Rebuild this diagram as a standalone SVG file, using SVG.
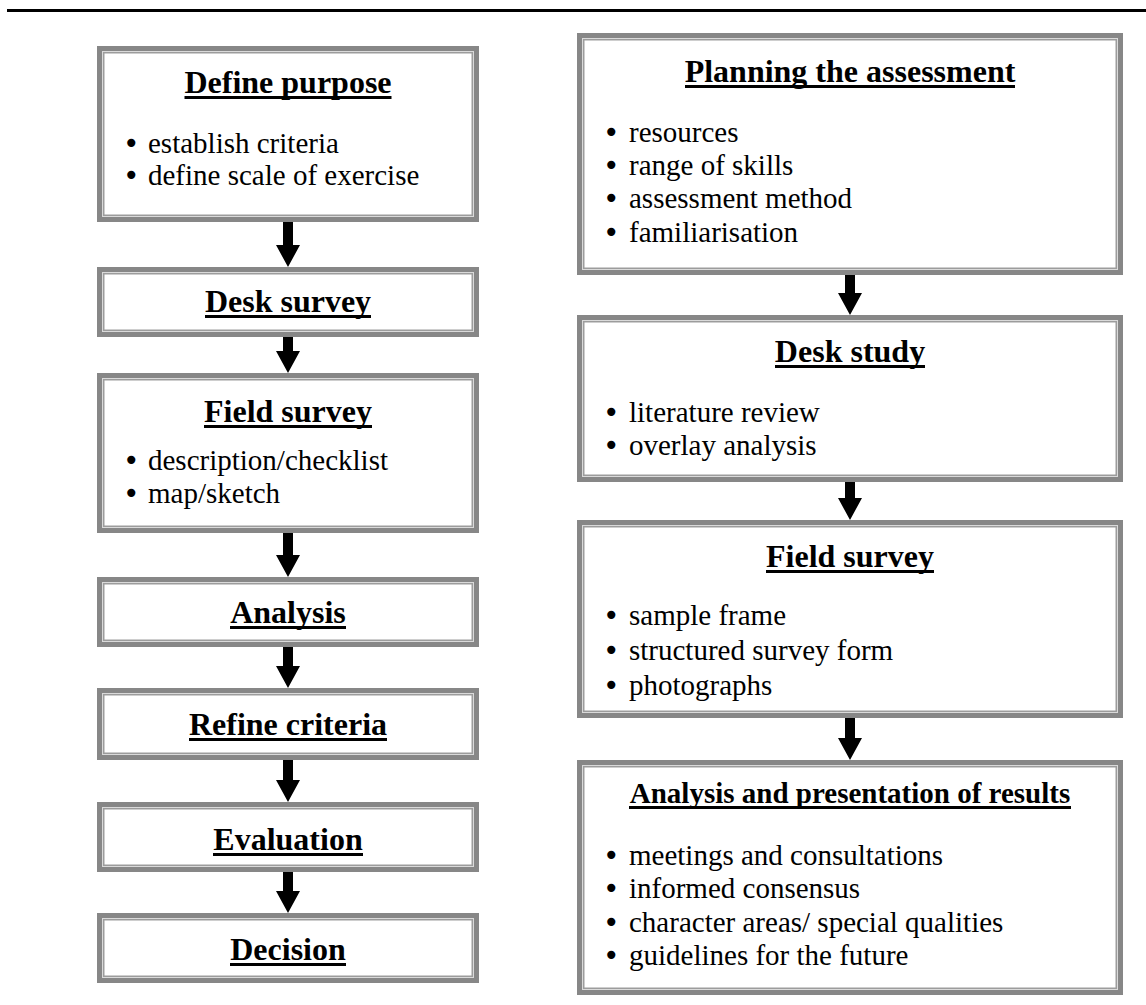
<svg xmlns="http://www.w3.org/2000/svg" width="1146" height="1005" viewBox="0 0 1146 1005">
<style>
.b0{fill:#878787}
.b1{fill:#dadada}
.b2{fill:#9c9c9c}
.b3{fill:#ffffff}
.t{font-family:"Liberation Serif","Times New Roman",serif;font-weight:bold;font-size:32px;fill:#000;text-anchor:middle}
.t2{font-family:"Liberation Serif","Times New Roman",serif;font-weight:bold;font-size:29px;fill:#000;text-anchor:middle}
.i{font-family:"Liberation Serif","Times New Roman",serif;font-size:29px;fill:#000}
.bu{font-family:"DejaVu Sans",sans-serif;font-size:28px}
.u{fill:#000}
.ar{fill:#000}
</style>
<rect x="7" y="9" width="1139" height="3" fill="#000"/>

<g id="connectors">
<path class="ar" d="M283 222 H293 V245 H300 L288 267 L276 245 H283 Z"/>
<path class="ar" d="M283 337 H293 V351 H300 L288 373 L276 351 H283 Z"/>
<path class="ar" d="M283 533 H293 V555 H300 L288 577 L276 555 H283 Z"/>
<path class="ar" d="M283 647 H293 V666 H300 L288 688 L276 666 H283 Z"/>
<path class="ar" d="M283 760 H293 V780 H300 L288 802 L276 780 H283 Z"/>
<path class="ar" d="M283 872 H293 V891 H300 L288 913 L276 891 H283 Z"/>
<path class="ar" d="M845 275 H855 V293 H862 L850 315 L838 293 H845 Z"/>
<path class="ar" d="M845 482 H855 V498 H862 L850 520 L838 498 H845 Z"/>
<path class="ar" d="M845 718 H855 V738 H862 L850 760 L838 738 H845 Z"/>
</g>

<g id="define-purpose">
<rect class="b0" x="97" y="46" width="382" height="176"/><rect class="b1" x="102" y="51" width="372" height="166"/><rect class="b2" x="103" y="52" width="370" height="164"/><rect class="b3" x="104.5" y="53.5" width="367" height="161"/>
<text class="t" x="288" y="93">Define purpose</text><rect class="u" x="184.5" y="96" width="207" height="3"/>
<text class="i" x="123" y="153"><tspan class="bu">•</tspan><tspan x="148">establish criteria</tspan></text>
<text class="i" x="123" y="185"><tspan class="bu">•</tspan><tspan x="148">define scale of exercise</tspan></text>
</g>

<g id="desk-survey">
<rect class="b0" x="97" y="267" width="382" height="70"/><rect class="b1" x="102" y="272" width="372" height="60"/><rect class="b2" x="103" y="273" width="370" height="58"/><rect class="b3" x="104.5" y="274.5" width="367" height="55"/>
<text class="t" x="288" y="312">Desk survey</text><rect class="u" x="205" y="315" width="166" height="3"/>
</g>

<g id="field-survey-left">
<rect class="b0" x="97" y="373" width="382" height="160"/><rect class="b1" x="102" y="378" width="372" height="150"/><rect class="b2" x="103" y="379" width="370" height="148"/><rect class="b3" x="104.5" y="380.5" width="367" height="145"/>
<text class="t" x="288" y="422">Field survey</text><rect class="u" x="204" y="425" width="168" height="3"/>
<text class="i" x="123" y="470"><tspan class="bu">•</tspan><tspan x="148">description/checklist</tspan></text>
<text class="i" x="123" y="503"><tspan class="bu">•</tspan><tspan x="148">map/sketch</tspan></text>
</g>

<g id="analysis-left">
<rect class="b0" x="97" y="577" width="382" height="70"/><rect class="b1" x="102" y="582" width="372" height="60"/><rect class="b2" x="103" y="583" width="370" height="58"/><rect class="b3" x="104.5" y="584.5" width="367" height="55"/>
<text class="t" x="288" y="623">Analysis</text><rect class="u" x="230" y="626" width="116" height="3"/>
</g>

<g id="refine-criteria">
<rect class="b0" x="97" y="688" width="382" height="72"/><rect class="b1" x="102" y="693" width="372" height="62"/><rect class="b2" x="103" y="694" width="370" height="60"/><rect class="b3" x="104.5" y="695.5" width="367" height="57"/>
<text class="t" x="288" y="735">Refine criteria</text><rect class="u" x="189" y="738" width="198" height="3"/>
</g>

<g id="evaluation">
<rect class="b0" x="97" y="802" width="382" height="70"/><rect class="b1" x="102" y="807" width="372" height="60"/><rect class="b2" x="103" y="808" width="370" height="58"/><rect class="b3" x="104.5" y="809.5" width="367" height="55"/>
<text class="t" x="288" y="850">Evaluation</text><rect class="u" x="213" y="853" width="150" height="3"/>
</g>

<g id="decision">
<rect class="b0" x="97" y="913" width="382" height="70"/><rect class="b1" x="102" y="918" width="372" height="60"/><rect class="b2" x="103" y="919" width="370" height="58"/><rect class="b3" x="104.5" y="920.5" width="367" height="55"/>
<text class="t" x="288" y="960">Decision</text><rect class="u" x="230" y="963" width="116" height="3"/>
</g>

<g id="planning">
<rect class="b0" x="577" y="33" width="546" height="242"/><rect class="b1" x="582" y="38" width="536" height="232"/><rect class="b2" x="583" y="39" width="534" height="230"/><rect class="b3" x="584.5" y="40.5" width="531" height="227"/>
<text class="t" x="850" y="82">Planning the assessment</text><rect class="u" x="685" y="85" width="330" height="3"/>
<text class="i" x="603" y="142"><tspan class="bu">•</tspan><tspan x="629">resources</tspan></text>
<text class="i" x="603" y="175"><tspan class="bu">•</tspan><tspan x="629">range of skills</tspan></text>
<text class="i" x="603" y="208"><tspan class="bu">•</tspan><tspan x="629">assessment method</tspan></text>
<text class="i" x="603" y="242"><tspan class="bu">•</tspan><tspan x="629">familiarisation</tspan></text>
</g>

<g id="desk-study">
<rect class="b0" x="577" y="315" width="546" height="167"/><rect class="b1" x="582" y="320" width="536" height="157"/><rect class="b2" x="583" y="321" width="534" height="155"/><rect class="b3" x="584.5" y="322.5" width="531" height="152"/>
<text class="t" x="850" y="362">Desk study</text><rect class="u" x="775" y="365" width="150" height="3"/>
<text class="i" x="603" y="422"><tspan class="bu">•</tspan><tspan x="629">literature review</tspan></text>
<text class="i" x="603" y="455"><tspan class="bu">•</tspan><tspan x="629">overlay analysis</tspan></text>
</g>

<g id="field-survey-right">
<rect class="b0" x="577" y="520" width="546" height="198"/><rect class="b1" x="582" y="525" width="536" height="188"/><rect class="b2" x="583" y="526" width="534" height="186"/><rect class="b3" x="584.5" y="527.5" width="531" height="183"/>
<text class="t" x="850" y="567">Field survey</text><rect class="u" x="766" y="570" width="168" height="3"/>
<text class="i" x="603" y="625"><tspan class="bu">•</tspan><tspan x="629">sample frame</tspan></text>
<text class="i" x="603" y="660"><tspan class="bu">•</tspan><tspan x="629">structured survey form</tspan></text>
<text class="i" x="603" y="695"><tspan class="bu">•</tspan><tspan x="629">photographs</tspan></text>
</g>

<g id="analysis-presentation">
<rect class="b0" x="577" y="760" width="546" height="235"/><rect class="b1" x="582" y="765" width="536" height="225"/><rect class="b2" x="583" y="766" width="534" height="223"/><rect class="b3" x="584.5" y="767.5" width="531" height="220"/>
<text class="t2" x="850" y="803">Analysis and presentation of results</text><rect class="u" x="629" y="806" width="442" height="3"/>
<text class="i" x="603" y="865"><tspan class="bu">•</tspan><tspan x="629">meetings and consultations</tspan></text>
<text class="i" x="603" y="898"><tspan class="bu">•</tspan><tspan x="629">informed consensus</tspan></text>
<text class="i" x="603" y="932"><tspan class="bu">•</tspan><tspan x="629">character areas/ special qualities</tspan></text>
<text class="i" x="603" y="965"><tspan class="bu">•</tspan><tspan x="629">guidelines for the future</tspan></text>
</g>
</svg>
